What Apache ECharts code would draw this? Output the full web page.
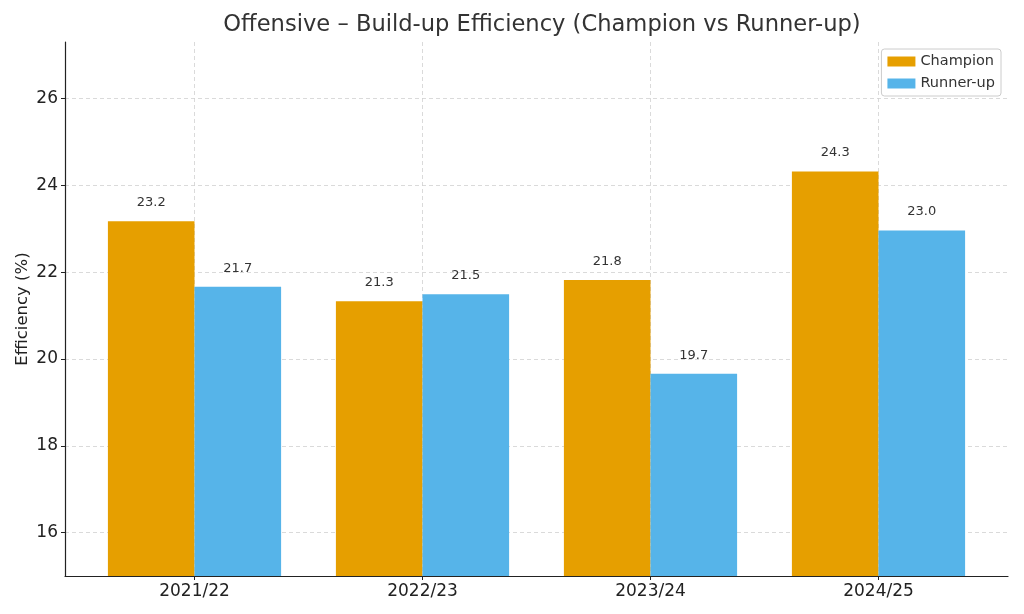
<!DOCTYPE html>
<html><head><meta charset="utf-8">
<script src="https://cdn.jsdelivr.net/npm/echarts@6/dist/echarts.min.js"></script>
<style>html,body{margin:0;padding:0;background:#fff}#c{width:1024px;height:614px}</style>
</head><body><div id="c"></div>
<script>
const categories = ['2021/22', '2022/23', '2023/24', '2024/25'];
const champion = [23.17, 21.33, 21.82, 24.32];
const runnerUp = [21.66, 21.49, 19.66, 22.96];
const yTicks = [16, 18, 20, 22, 24, 26];
const xTicks = [0, 1, 2, 3];

const chart = echarts.init(document.getElementById('c'));
const font = 'DejaVu Sans';
const gridLine = {show: true, lineStyle: {color: '#d0d0d0', type: [4, 3], width: 0.8}};
const lbl = {show: true, position: 'top', distance: 12, fontSize: 13, color: '#333', fontFamily: font,
  formatter: p => p.value[1].toFixed(1)};
chart.setOption({
  animation: false,
  textStyle: {fontFamily: font},
  title: {text: 'Offensive – Build-up Efficiency (Champion vs Runner-up)', left: 537, top: 9, textAlign: 'center',
    textStyle: {fontSize: 22.6, fontWeight: 'normal', color: '#333', fontFamily: font}},
  legend: {right: 23, top: 49, orient: 'vertical', itemWidth: 28, itemHeight: 10, itemGap: 7,
    backgroundColor: '#fff', borderColor: '#ccc', borderWidth: 1, borderRadius: 3, padding: [5, 6, 5, 6],
    textStyle: {fontSize: 14.5, color: '#333', fontFamily: font}, icon: 'rect',
    data: ['Champion', 'Runner-up']},
  grid: {left: 65, right: 16, top: 42, bottom: 38, containLabel: false, outerBoundsMode: 'none'},
  xAxis: {type: 'value', min: -0.568, max: 3.568,
    axisLine: {show: true, onZero: false, lineStyle: {color: '#222', width: 1.2}},
    axisTick: {show: true, customValues: xTicks, length: 4, lineStyle: {color: '#222'}},
    axisLabel: {customValues: xTicks, formatter: v => categories[Math.round(v)] || '', fontSize: 17, color: '#222', margin: 7, fontFamily: font},
    splitLine: gridLine},
  yAxis: {type: 'value', min: 15, max: 27.3, name: 'Efficiency (%)', nameLocation: 'middle', nameGap: 34,
    nameMoveOverlap: false,
    nameTextStyle: {fontSize: 16.5, color: '#222', fontFamily: font},
    axisLine: {show: true, onZero: false, lineStyle: {color: '#222', width: 1.2}},
    axisTick: {show: true, customValues: yTicks, length: 4, lineStyle: {color: '#222'}},
    axisLabel: {customValues: yTicks, fontSize: 17, color: '#222', margin: 7, fontFamily: font},
    splitLine: gridLine},
  series: [
    {name: 'Champion', type: 'bar', barWidth: 86.6, barGap: '0%', itemStyle: {color: '#E69F00'},
      data: champion.map((v, i) => [xTicks[i], v]), label: lbl},
    {name: 'Runner-up', type: 'bar', barWidth: 86.6, barGap: '0%', itemStyle: {color: '#56B4E9'},
      data: runnerUp.map((v, i) => [xTicks[i], v]), label: lbl}
  ]
});
</script></body></html>
